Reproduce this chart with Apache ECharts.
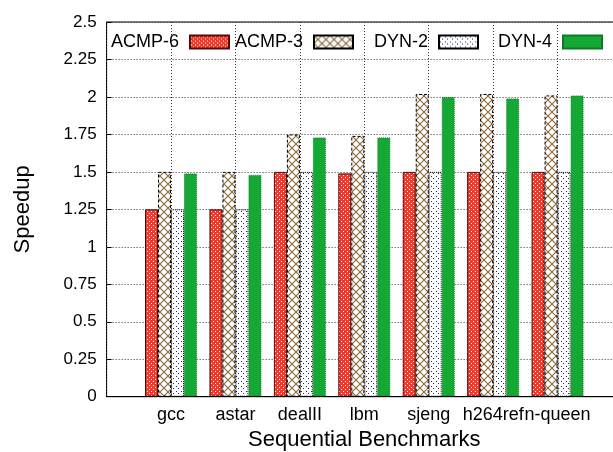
<!DOCTYPE html>
<html>
<head>
<meta charset="utf-8">
<script src="https://cdn.jsdelivr.net/npm/echarts@6/dist/echarts.min.js"></script>
<style>
html,body{margin:0;padding:0;background:#fff;}
#chart{width:613px;height:452px;}
</style>
</head>
<body>
<div id="chart"></div>
<script>
// ---- data ----
var categories = ['gcc', 'astar', 'dealII', 'lbm', 'sjeng', 'h264ref', 'n-queen'];
var seriesNames = ['ACMP-6', 'ACMP-3', 'DYN-2', 'DYN-4'];
var acmp6 = [1.25, 1.25, 1.50, 1.49, 1.50, 1.50, 1.50];
var acmp3 = [1.50, 1.50, 1.75, 1.74, 2.02, 2.02, 2.01];
var dyn2  = [1.25, 1.25, 1.50, 1.50, 1.50, 1.50, 1.50];
var dyn4  = [1.49, 1.48, 1.73, 1.73, 2.00, 1.99, 2.01];
var yTickLabels = ['0', '0.25', '0.5', '0.75', '1', '1.25', '1.5', '1.75', '2', '2.25', '2.5'];

// ---- patterns ----
function makeTile(w, h, draw) {
  var c = document.createElement('canvas');
  c.width = w; c.height = h;
  var ctx = c.getContext('2d');
  draw(ctx);
  return { image: c, repeat: 'repeat' };
}
var redChecker = makeTile(4, 4, function (ctx) {
  ctx.fillStyle = '#ee3a2c'; ctx.fillRect(0, 0, 4, 4);
  ctx.fillStyle = '#ffffff';
  ctx.fillRect(1, 1, 1, 1); ctx.fillRect(3, 3, 1, 1);
});
var tanCross = makeTile(8, 8, function (ctx) {
  ctx.fillStyle = '#ffffff'; ctx.fillRect(0, 0, 8, 8);
  ctx.strokeStyle = '#8c6a38'; ctx.lineWidth = 1.1;
  ctx.beginPath();
  ctx.moveTo(0, 0); ctx.lineTo(8, 8);
  ctx.moveTo(8, 0); ctx.lineTo(0, 8);
  ctx.stroke();
});
var blueDots = makeTile(5, 5, function (ctx) {
  ctx.fillStyle = '#ffffff'; ctx.fillRect(0, 0, 5, 5);
  ctx.fillStyle = '#1c2a78';
  ctx.fillRect(1, 1, 1, 1); ctx.fillRect(3, 3, 1, 1);
});

function pad(arr) { return ['-'].concat(arr).concat(['-']); }
var axisCats = [''].concat(categories).concat(['']);

var FONT = 'Liberation Sans, Arial, Helvetica, sans-serif';
var chart = echarts.init(document.getElementById('chart'), null, { renderer: 'canvas' });

var styles = [
  { color: redChecker, borderColor: '#5a0808', borderWidth: 1, borderType: 'solid' },
  { color: tanCross, borderColor: '#000', borderWidth: 1, borderType: [3, 2] },
  { color: blueDots, borderColor: '#000', borderWidth: 1, borderType: [1, 1] },
  { color: '#14a834', borderColor: '#0d7a24', borderWidth: 1, borderType: [1, 1] }
];
var dataSets = [acmp6, acmp3, dyn2, dyn4];

var legendRight = [383, 259, 134, 10];
var legends = seriesNames.map(function (n, i) {
  return {
    data: [{ name: n, icon: 'rect' }],
    right: legendRight[i],
    top: 33,
    padding: 0,
    align: 'right',
    itemWidth: 39,
    itemHeight: 13,
    selectedMode: false,
    textStyle: { fontFamily: FONT, fontSize: 18, color: '#000', padding: [0, 6, 0, 0] }
  };
});

var option = {
  animation: false,
  backgroundColor: '#fff',
  legend: legends,
  grid: {
    left: 106.6, right: -9, top: 22, bottom: 55.3,
    outerBoundsMode: 'none',
    containLabel: false,
    show: true, borderColor: '#000', borderWidth: 1, backgroundColor: 'transparent'
  },
  xAxis: {
    type: 'category',
    data: axisCats,
    boundaryGap: false,
    axisLine: { show: true, lineStyle: { color: '#000', width: 1 } },
    axisTick: { show: false },
    axisLabel: { fontFamily: FONT, fontSize: 18, color: '#000', margin: 9, interval: 0 },
    splitLine: { show: true, lineStyle: { color: '#333', width: 1, type: [1, 2] } },
    name: 'Sequential Benchmarks',
    nameLocation: 'middle',
    nameGap: 32,
    nameTextStyle: { fontFamily: FONT, fontSize: 22, color: '#000' },
    z: 10
  },
  yAxis: {
    type: 'value',
    min: 0, max: 2.5, interval: 0.25,
    axisLine: { show: true, lineStyle: { color: '#000', width: 1 } },
    axisTick: { show: true, inside: true, length: 5, lineStyle: { color: '#000' } },
    axisLabel: {
      fontFamily: FONT, fontSize: 17, color: '#000', margin: 10,
      formatter: function (v) { return yTickLabels[Math.round(v / 0.25)]; }
    },
    splitLine: { show: true, lineStyle: { color: '#333', width: 1, type: [1, 2] } },
    name: 'Speedup',
    nameLocation: 'middle',
    nameGap: 73,
    nameTextStyle: { fontFamily: FONT, fontSize: 22, color: '#000' }
  },
  series: seriesNames.map(function (n, i) {
    return {
      name: n,
      type: 'bar',
      data: pad(dataSets[i]),
      barWidth: 13,
      barGap: '0%',
      itemStyle: styles[i],
      emphasis: { disabled: true }
    };
  })
};
chart.setOption(option);
</script>
</body>
</html>
